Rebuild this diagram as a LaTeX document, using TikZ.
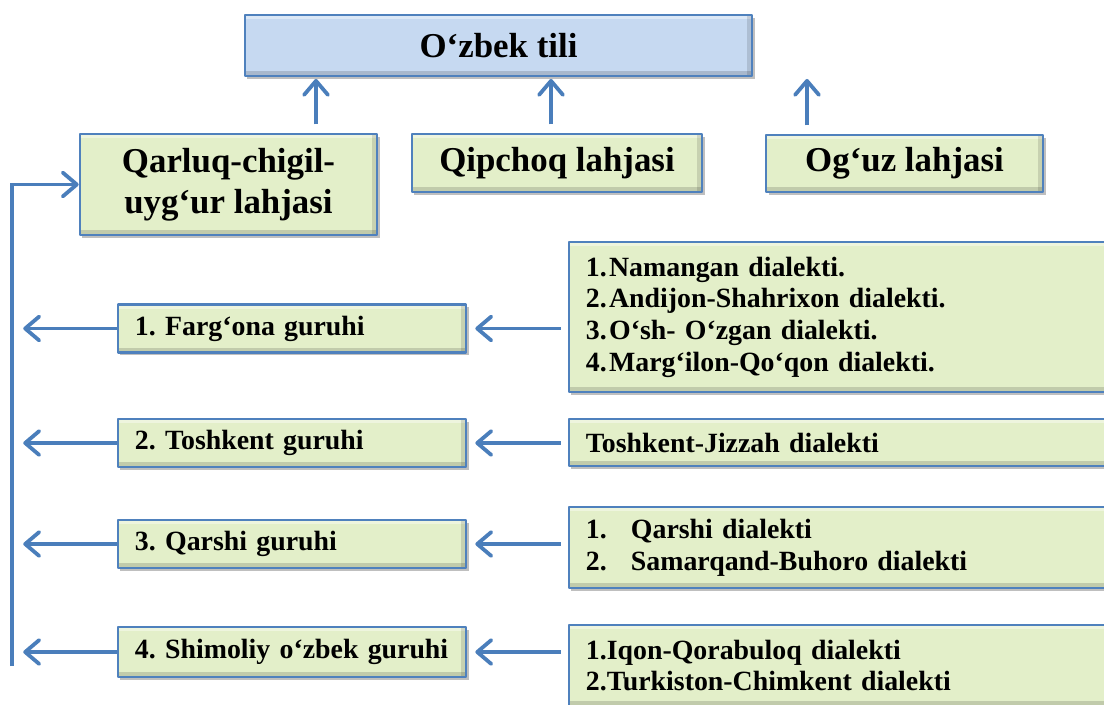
\documentclass[tikz,border=0pt]{standalone}
\usepackage{fontspec}
\setmainfont{Liberation Serif}
\usepackage{tikz}
\usetikzlibrary{arrows.meta, shadows}
\definecolor{khungxanh}{RGB}{79,129,189}
\definecolor{nenxanh}{RGB}{198,217,241}
\definecolor{nenluc}{RGB}{227,239,201}
\definecolor{muiten}{RGB}{74,126,187}

\begin{document}
\begin{tikzpicture}[x=0.025cm, y=-0.025cm, line join=round,
    hop/.style={draw=khungxanh, line width=1.8pt, fill=nenluc,
        drop shadow={shadow xshift=1.8pt, shadow yshift=-1.8pt, opacity=0.5},
        path picture={
            \fill[white, opacity=0.4] (path picture bounding box.north west) rectangle ([yshift=-3pt]path picture bounding box.north east);
            \fill[black, opacity=0.15] (path picture bounding box.south west) rectangle ([yshift=3.5pt]path picture bounding box.south east);
            \fill[black, opacity=0.12] (path picture bounding box.north east) rectangle ([xshift=-3.5pt]path picture bounding box.south east);
        }},
    lon/.style={hop, align=center, font=\fontsize{24.8}{29}\selectfont\bfseries},
    nho/.style={hop, align=left, inner xsep=0.425cm, font=\fontsize{19.8}{22.5}\selectfont\bfseries\frenchspacing},
    ten/.style={draw=muiten, line width=2.7pt, -{Straight Barb[length=10pt, width=17pt, round]}}]
    \useasboundingbox (0,0) rectangle (1104,704);
    \clip (0,0) rectangle (1104,704);

    % Gốc
    \node[lon, fill=nenxanh, minimum width=12.675cm, minimum height=1.525cm] (goc) at (498.5,45.5) {O‘zbek tili};

    % Ba lahja
    \node[lon, minimum width=7.425cm, minimum height=2.525cm] (qarluq) at (228.5,184.5) {Qarluq-chigil-\\uyg‘ur lahjasi};
    \node[lon, minimum width=7.25cm, minimum height=1.45cm] (qipchoq) at (557,163) {Qipchoq lahjasi};
    \node[lon, minimum width=6.925cm, minimum height=1.425cm] (oguz) at (904.5,163.5) {Og‘uz lahjasi};

    \draw[ten, shorten <=6pt, shorten >=1.2pt] (316,0 |- qarluq.north) -- (316,0 |- goc.south);
    \draw[ten, shorten <=6pt, shorten >=1.2pt] (551,0 |- qipchoq.north) -- (551,0 |- goc.south);
    \draw[ten, shorten <=6pt, shorten >=1.2pt] (807,0 |- oguz.north) -- (807,0 |- goc.south);

    % Các guruh
    \node[nho, text width=7.85cm, minimum height=1.2cm] (g1) at (292,328.5) {1. Farg‘ona guruhi};
    \node[nho, text width=7.85cm, minimum height=1.2cm] (g2) at (292,443) {2. Toshkent guruhi};
    \node[nho, text width=7.85cm, minimum height=1.2cm] (g3) at (292,544) {3. Qarshi guruhi};
    \node[nho, text width=7.85cm, minimum height=1.25cm] (g4) at (292,652) {4. Shimoliy o‘zbek guruhi};

    % Các dialekt
    \node[nho, text width=12.725cm, minimum height=3.75cm] (d1) at (840.5,317)
        {\makebox[0.58cm][l]{1.}Namangan dialekti.\\
         \makebox[0.58cm][l]{2.}Andijon-Shahrixon dialekti.\\
         \makebox[0.58cm][l]{3.}O‘sh- O‘zgan dialekti.\\
         \makebox[0.58cm][l]{4.}Marg‘ilon-Qo‘qon dialekti.};
    \node[nho, text width=12.725cm, minimum height=1.175cm] (d2) at (840.5,442.5) {Toshkent-Jizzah dialekti};
    \node[nho, text width=12.725cm, minimum height=2.025cm] (d3) at (840.5,547.5)
        {\makebox[1.125cm][l]{1.}Qarshi dialekti\\
         \makebox[1.125cm][l]{2.}Samarqand-Buhoro dialekti};
    \node[nho, text width=12.725cm, minimum height=2.025cm] (d4) at (840.5,665.5)
        {1.Iqon-Qorabuloq dialekti\\2.Turkiston-Chimkent dialekti};

    % Trục trái
    \coordinate (tren) at (12,184.5);
    \coordinate (duoi) at (12,666);
    \draw[ten, line join=miter] (duoi) -- (tren) -- (qarluq.west);

    \draw[ten, shorten >=8pt] (g1.west) -- (g1.west -| duoi);
    \draw[ten, shorten >=8pt] (g2.west) -- (g2.west -| duoi);
    \draw[ten, shorten >=8pt] (g3.west) -- (g3.west -| duoi);
    \draw[ten, shorten >=8pt] (g4.west) -- (g4.west -| duoi);

    % Mũi tên từ dialekt
    \draw[ten, shorten <=5pt, shorten >=5.7pt] (g1.east -| d1.west) -- (g1.east);
    \draw[ten, shorten <=5pt, shorten >=5.7pt] (g2.east -| d2.west) -- (g2.east);
    \draw[ten, shorten <=5pt, shorten >=5.7pt] (g3.east -| d3.west) -- (g3.east);
    \draw[ten, shorten <=5pt, shorten >=5.7pt] (g4.east -| d4.west) -- (g4.east);
\end{tikzpicture}
\end{document}
